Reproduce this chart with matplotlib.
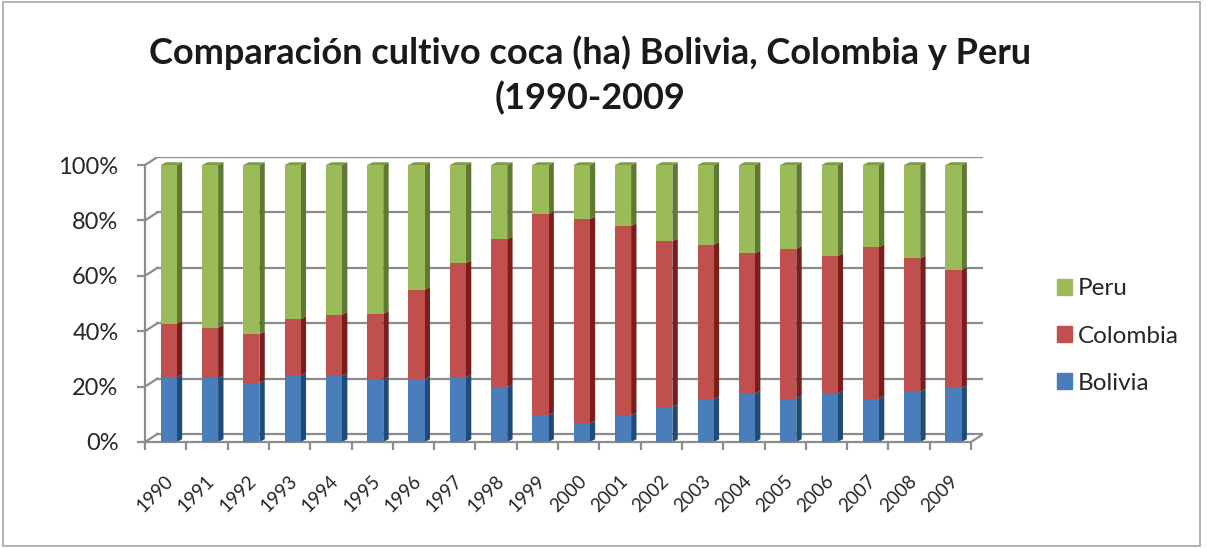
import numpy as np
import matplotlib
matplotlib.use('Agg')
import matplotlib.pyplot as plt
from matplotlib.patches import Rectangle, Patch

plt.rcParams['font.family'] = ['Lato', 'DejaVu Sans']

years = [str(y) for y in range(1990, 2010)]
# cumulative shares (%)
bolivia = [23.4, 23.0, 21.3, 23.9, 23.7, 22.5, 22.7, 23.4, 19.8, 9.7,
           6.6, 9.5, 12.6, 15.4, 17.5, 15.7, 17.5, 15.7, 18.1, 19.4]
bol_col_top = [42.7, 41.3, 38.9, 44.4, 46.0, 46.3, 54.9, 64.5, 73.2, 82.3,
               80.4, 78.0, 72.5, 71.2, 68.1, 69.7, 67.1, 70.3, 66.3, 62.1]
colombia = [t - b for t, b in zip(bol_col_top, bolivia)]
peru = [100 - t for t in bol_col_top]

series = [('Bolivia', bolivia, '#4A7EBB', '#1F4B78'),
          ('Colombia', colombia, '#C0504D', '#7A1D1B'),
          ('Peru', peru, '#9BBB59', '#5E7A32')]

W, H = 1207, 548
fig = plt.figure(figsize=(W / 100, H / 100), dpi=100)

# depth of the back wall and of the bars (data units)
DX, DY = 0.3, 2.9
BDX, BDY = 0.13, 1.0
BW, BOFF = 0.39, 0.075

ax = fig.add_axes([145 / W, 106 / H, 838.4 / W, 285 / H])
ax.set_xlim(-0.5, 19.5 + DX)
ax.set_ylim(0, 100 + DY)

grid_c = '#8C8C8C'
for v in range(0, 101, 20):
    ax.plot([-0.5 + DX, 19.5 + DX], [v + DY, v + DY], color=grid_c, lw=1.6, zorder=1)
    ax.plot([-0.5, -0.5 + DX], [v, v + DY], color=grid_c, lw=1.6, zorder=1)
ax.plot([19.5, 19.5 + DX], [0, DY], color=grid_c, lw=1.6, zorder=1)

x = np.arange(len(years))
bottom = np.zeros(len(years))
for name, vals, col, side in series:
    vals = np.array(vals)
    ax.bar(x + BOFF, vals, width=BW, bottom=bottom, color=col, zorder=3,
           linewidth=0)
    x1 = x + BOFF + BW / 2
    for i in range(len(x)):
        b, t = bottom[i], bottom[i] + vals[i]
        ax.fill([x1[i], x1[i] + BDX, x1[i] + BDX, x1[i]],
                [b, b + BDY, t + BDY, t], color=side, lw=0, zorder=2)
    bottom = bottom + vals

# top faces
x0 = x + BOFF - BW / 2
x1 = x + BOFF + BW / 2
for i in range(len(x)):
    ax.fill([x0[i], x0[i] + BDX, x1[i] + BDX, x1[i]],
            [bottom[i], bottom[i] + BDY, bottom[i] + BDY, bottom[i]],
            color='#7E9C45', lw=0, zorder=2)

for s in ['top', 'right']:
    ax.spines[s].set_visible(False)
ax.spines['left'].set_bounds(0, 100)
ax.spines['bottom'].set_bounds(-0.5, 19.5)
for s in ['left', 'bottom']:
    ax.spines[s].set_color(grid_c)
    ax.spines[s].set_linewidth(1.6)

ax.set_yticks(range(0, 101, 20))
ax.set_yticklabels([f'{v}%' for v in range(0, 101, 20)], fontsize=17, color='#262626')
ax.tick_params(axis='y', length=6, width=1.6, color=grid_c, pad=13)

ax.set_xticks(np.arange(-0.5, 20, 1))
ax.set_xticklabels([])
ax.tick_params(axis='x', which='major', length=6, width=1.6, color=grid_c)
ax.set_xticks(x + 0.12, minor=True)
ax.set_xticklabels(years, minor=True, rotation=45, ha='right', va='center',
                   rotation_mode='anchor', fontsize=13.5, color='#262626')
ax.tick_params(axis='x', which='minor', length=0, pad=26)

fig.text(590 / W, 1 - 53 / H, 'Comparación cultivo coca (ha) Bolivia, Colombia y Peru',
         ha='center', va='center', fontsize=26, fontweight='bold', color='#1A1A1A')
fig.text(590 / W, 1 - 98 / H, '(1990-2009', ha='center', va='center',
         fontsize=26, fontweight='bold', color='#1A1A1A')

handles = [Patch(color=c) for _, _, c, _ in series[::-1]]
labels = [n for n, _, _, _ in series[::-1]]
fig.legend(handles, labels, loc='center left', bbox_to_anchor=(1057 / W, 1 - 336 / H),
           frameon=False, fontsize=17.5, labelspacing=1.07, handlelength=0.62,
           handleheight=0.62, handletextpad=0.25, borderpad=0, borderaxespad=0,
           labelcolor='#262626')

fig.patches.append(Rectangle((3 / W, 2 / H), 1197 / W, 544 / H, transform=fig.transFigure,
                             fill=False, edgecolor='#A6A6A6', lw=1.2))

fig.savefig('out.png', dpi=100)
